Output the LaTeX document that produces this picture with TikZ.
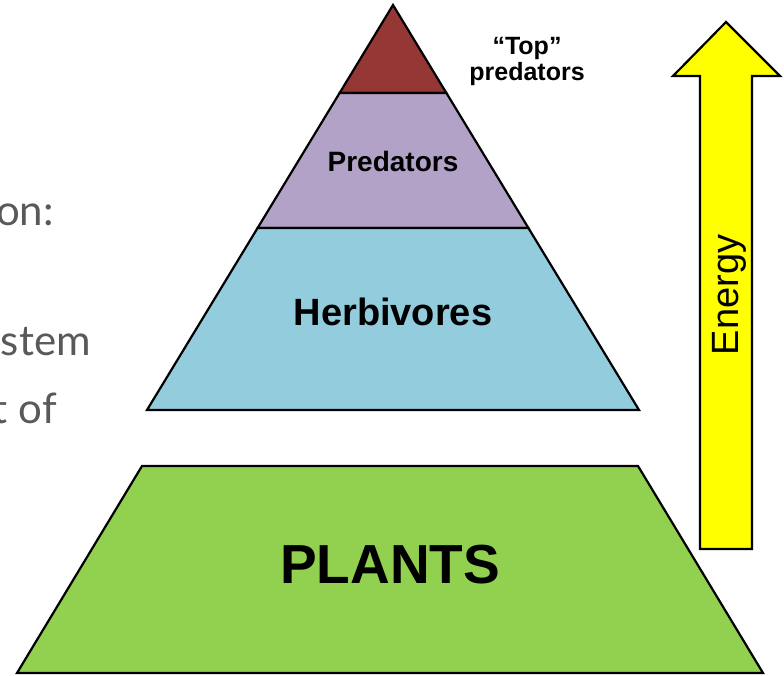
\documentclass[tikz,border=0pt]{standalone}
\usepackage{fontspec}
\setmainfont{Liberation Sans}
\newfontfamily\slidefont{Lato}
\usepackage{xcolor}
\usetikzlibrary{positioning, calc}
\definecolor{topred}{HTML}{953735}
\definecolor{predpurple}{HTML}{B3A2C7}
\definecolor{herbblue}{HTML}{93CDDD}
\definecolor{plantgreen}{HTML}{92D050}
\definecolor{energyyellow}{HTML}{FFFF00}
\definecolor{slidegray}{HTML}{595959}

\begin{document}
\begin{tikzpicture}[
  x=1pt, y=-1pt,
  tier/.style={draw=black, line width=2.2pt, line join=miter},
  lbl/.style={font=\bfseries, inner sep=0pt, anchor=base},
  sidetext/.style={font=\slidefont\fontsize{42}{50}\selectfont, text=slidegray, inner sep=0pt, anchor=base east}]
\useasboundingbox (0,0) rectangle (784,676);

% cut-off slide text on the left
\foreach \idx/\xx/\yy/\txt in {1/54/226/on:,2/91/355/stem,3/57/423/t of}
 {
  \node[sidetext] (side\idx) at (\xx,\yy) {\txt};
 }

% pyramid
\draw[tier, fill=topred] (393,5)--(339.6,93)--(446.4,93)--cycle;
\draw[tier, fill=predpurple] (339.6,93)--(446.4,93)--(528.4,228)--(257.6,228)--cycle;
\draw[tier, fill=herbblue] (257.6,228)--(528.4,228)--(639,410)--(147,410)--cycle;
\draw[tier, fill=plantgreen] (142,466)--(638,466)--(763,673)--(17,673)--cycle;

\node[lbl, font=\bfseries\fontsize{25}{26}\selectfont, align=center, anchor=base] (toppred) at (527,81) {“Top”\\predators};
\node[lbl, font=\bfseries\fontsize{28}{30}\selectfont] (pred) at (393,172) {Predators};
\node[lbl, font=\bfseries\fontsize{38}{40}\selectfont] (herb) at (393,325) {Herbivores};
\node[lbl, font=\bfseries\fontsize{55}{58}\selectfont] (plants) at (390,583) {PLANTS};

% energy arrow
\draw[tier, fill=energyyellow] (726,22)--(780,76)--(752,76)--(752,549)--(700,549)--(700,76)--(673,76)--cycle;
\node[rotate=90, anchor=base, inner sep=0pt, font=\fontsize{38}{40}\selectfont] (energy) at (738,295) {Energy};
\end{tikzpicture}
\end{document}
